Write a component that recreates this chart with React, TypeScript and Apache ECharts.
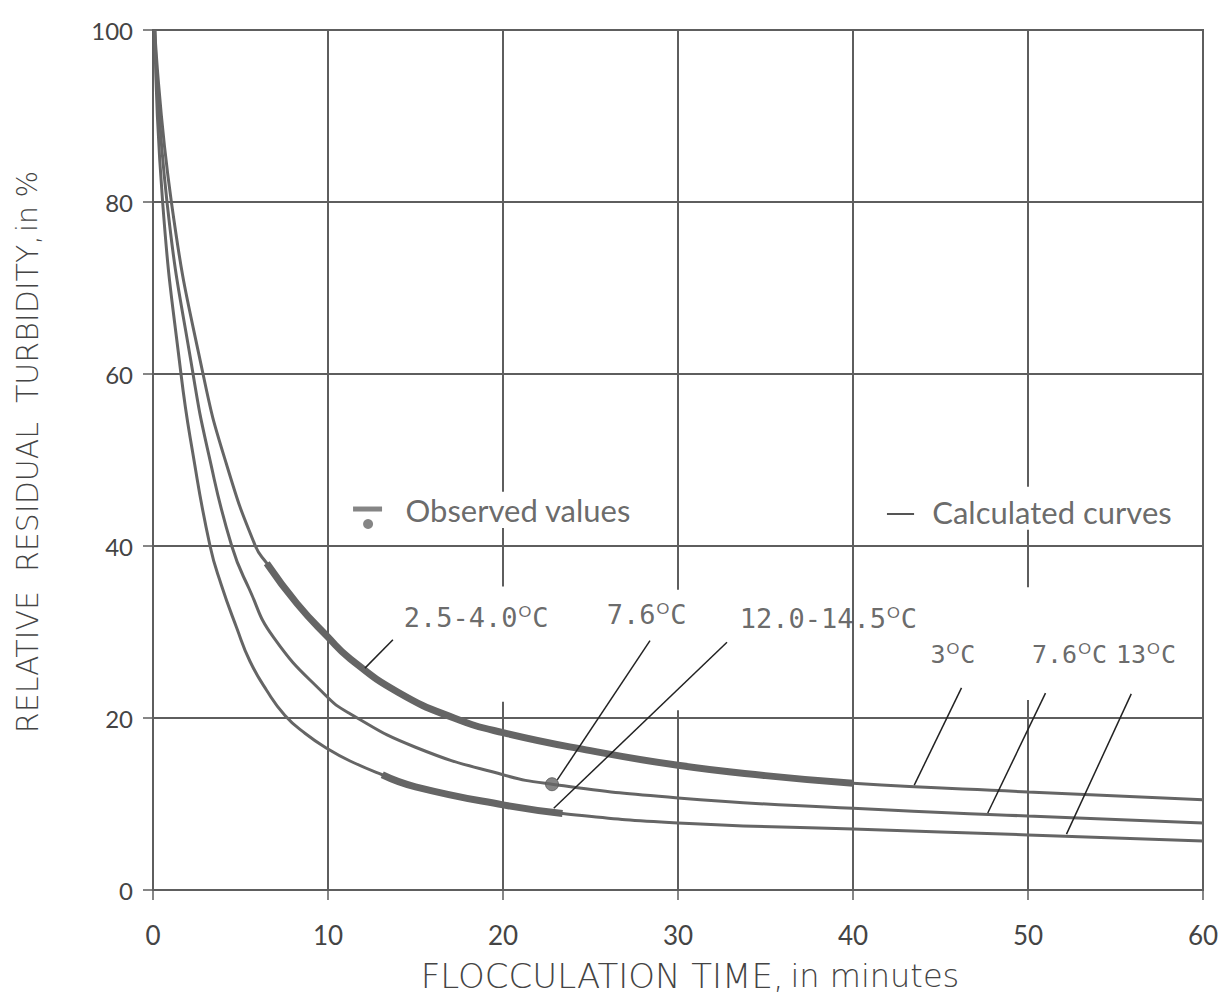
import React, { useEffect, useRef } from 'react';
import * as echarts from 'echarts';

// Axis ticks
const xTicks = [0, 10, 20, 30, 40, 50, 60];
const yTicks = [0, 20, 40, 60, 80, 100];

// Calculated curve, 3 °C (top)
const c3X = [0.1, 1.05, 2.86, 4.2, 5.85, 6.5, 8.23, 10, 11.26, 14, 17.2, 20, 25, 30, 35, 40, 50, 60];
const c3Y = [100, 80, 60, 49.5, 40, 38.0, 33.3, 29.4, 26.9, 23.0, 20.0, 18.3, 16.2, 14.5, 13.3, 12.4, 11.4, 10.5];

// Calculated curve, 7.6 °C (middle)
const c76X = [0.1, 0.8, 2.29, 3.2, 4.5, 5.5, 6.88, 9.83, 11.26, 15, 20, 22.8, 30, 40, 50, 60];
const c76Y = [100, 80, 60, 50.5, 40, 35.0, 29.4, 22.7, 20.5, 16.6, 13.4, 12.3, 10.7, 9.5, 8.6, 7.8];

// Calculated curve, 13 °C (bottom)
const c13X = [0.1, 0.55, 1.6, 2.3, 3.26, 3.9, 4.78, 5.54, 6.5, 7.54, 8.7, 10, 11.26, 13.1, 15, 20, 23.4, 30, 40, 50, 60];
const c13Y = [100, 80, 60, 50.5, 40, 35.5, 30.5, 26.6, 23.2, 20.3, 18.2, 16.4, 15.0, 13.4, 12.0, 9.9, 8.9, 7.8, 7.1, 6.4, 5.7];

// Observed ranges (minutes) drawn as thick segments
const observedTopRange = [6.5, 40];
const observedBottomRange = [13.1, 23.4];
const observedPoint = [22.8, 12.3];

// Curve labels
const labelNames = ['2.5-4.0', '7.6', '12.0-14.5', '3', '7.6', '13'];
const labelX = [14.3, 25.9, 33.5, 44.4, 50.2, 55.0];
const labelY = [31.7, 32.0, 31.6, 27.4, 27.4, 27.4];
const labelSize = [27, 27, 27, 25, 25, 25];

// Leader lines
const leaderFrom = [[13.71, 29.1], [28.4, 29.0], [32.8, 28.8], [46.2, 23.5], [51.0, 22.9], [55.9, 22.8]];
const leaderTo = [[12.11, 25.8], [23.1, 12.8], [22.9, 9.5], [43.5, 12.2], [47.7, 8.95], [52.2, 6.5]];

// Vertical grid lines and their gaps [x, yTop, yBottom]
const vGridX = [10, 20, 30, 40, 50];
const vGridGaps = [[20, 46.3, 42.1], [20, 35.3, 21.9], [30, 34.9, 20.9], [50, 46.9, 41.9], [50, 35.2, 22.1]];

const TEXT = '#444';
const LINE = '#5e5e5e';
const MONO = '"DejaVu Sans Mono", monospace';
const SANS = 'Lato, "Noto Sans", sans-serif';
const TITLE = '"DejaVu Sans", sans-serif';

const zip = (xs: number[], ys: number[]) => xs.map((x, i) => [x, ys[i]]);

export default function App() {
  const ref = useRef<HTMLDivElement>(null);
  useEffect(() => {
    if (!ref.current) return;
    const chart = echarts.init(ref.current, null, { renderer: 'svg' });

    const gridSegs: any[] = [];
    vGridX.forEach((x) => {
      const gaps = vGridGaps.filter((g) => g[0] === x).sort((a, b) => b[1] - a[1]);
      let top = 100;
      gaps.forEach((g) => {
        gridSegs.push({ coords: [[x, top], [x, g[1]]] });
        top = g[2];
      });
      gridSegs.push({ coords: [[x, top], [x, 0]] });
    });

    const c3 = zip(c3X, c3Y);
    const c76 = zip(c76X, c76Y);
    const c13 = zip(c13X, c13Y);
    const obsTop = c3.filter((p) => p[0] >= observedTopRange[0] && p[0] <= observedTopRange[1]);
    const obsBottom = c13.filter((p) => p[0] >= observedBottomRange[0] && p[0] <= observedBottomRange[1]);

    const curve = (name: string, data: number[][], width = 3) => ({
      name,
      type: 'line',
      data,
      smooth: 0.5,
      showSymbol: false,
      silent: true,
      lineStyle: { color: '#656565', width },
      z: 3,
    });

    const option: any = {
      animation: false,
      backgroundColor: '#fff',
      grid: { left: 153, right: 25, top: 30, bottom: 110, show: true, borderColor: LINE, borderWidth: 2 },
      xAxis: {
        type: 'value',
        min: 0,
        max: 60,
        interval: 10,
        axisLine: { show: true, lineStyle: { color: LINE, width: 2 } },
        axisTick: { show: true, length: 10, lineStyle: { color: LINE, width: 1.5 } },
        axisLabel: { margin: 32, fontFamily: SANS, fontSize: 26, color: TEXT, formatter: (v: number) => (xTicks.includes(v) ? String(v) : '') },
        splitLine: { show: false },
      },
      yAxis: {
        type: 'value',
        min: 0,
        max: 100,
        interval: 20,
        axisLine: { show: true, lineStyle: { color: LINE, width: 2 } },
        axisTick: { show: true, length: 10, lineStyle: { color: LINE, width: 1.5 } },
        axisLabel: { margin: 20, fontFamily: SANS, fontSize: 24, color: TEXT, formatter: (v: number) => (yTicks.includes(v) ? String(v) : '') },
        splitLine: { show: true, lineStyle: { color: LINE, width: 2 } },
      },
      graphic: [
        {
          type: 'text',
          x: 690,
          y: 976,
          style: {
            text: '{a|FLOCCULATION TIME,}  {b|in minutes}',
            align: 'center',
            verticalAlign: 'middle',
            rich: {
              a: { fontFamily: TITLE, fontSize: 34, fill: TEXT, fontWeight: 200 },
              b: { fontFamily: TITLE, fontSize: 32, fill: TEXT, fontWeight: 200 },
            },
          },
        },
        {
          type: 'text',
          x: 27,
          y: 452,
          rotation: Math.PI / 2,
          style: {
            text: '{a|RELATIVE  RESIDUAL  TURBIDITY,} {b|in %}',
            align: 'center',
            verticalAlign: 'middle',
            rich: {
              a: { fontFamily: TITLE, fontSize: 30, fill: TEXT, fontWeight: 200 },
              b: { fontFamily: TITLE, fontSize: 28, fill: TEXT, fontWeight: 200 },
            },
          },
        },
      ],
      series: [
        {
          type: 'lines',
          coordinateSystem: 'cartesian2d',
          silent: true,
          data: gridSegs,
          lineStyle: { color: LINE, width: 2, opacity: 1 },
          z: 1,
        },
        curve('3 °C', c3),
        curve('7.6 °C', c76),
        curve('13 °C', c13),
        curve('Observed 2.5-4.0 °C', obsTop, 7),
        curve('Observed 12.0-14.5 °C', obsBottom, 7),
        {
          name: 'Observed 7.6 °C',
          type: 'scatter',
          data: [observedPoint],
          symbol: 'circle',
          symbolSize: 13,
          itemStyle: { color: '#666', borderColor: '#555', borderWidth: 1 },
          silent: true,
          z: 5,
        },
        {
          type: 'lines',
          coordinateSystem: 'cartesian2d',
          silent: true,
          data: leaderFrom.map((f, i) => ({ coords: [f, leaderTo[i]] })),
          lineStyle: { color: '#222', width: 1.5, opacity: 1 },
          z: 4,
        },
        {
          type: 'scatter',
          silent: true,
          symbolSize: 1,
          itemStyle: { color: 'rgba(0,0,0,0)' },
          data: labelNames.map((n, i) => ({
            name: n,
            value: [labelX[i], labelY[i]],
            label: {
              rich: {
                n: { fontFamily: MONO, fontSize: labelSize[i], color: TEXT, lineHeight: 30 },
                s: { fontFamily: SANS, fontSize: 16, color: TEXT, verticalAlign: 'top', lineHeight: 16, padding: [0, 1, 0, 1] },
              },
            },
          })),
          label: {
            show: true,
            position: 'right',
            distance: 0,
            formatter: (p: any) => `{n|${p.name}}{s|O}{n|C}`,
          },
          z: 6,
        },
        // Legend annotations
        {
          type: 'scatter',
          silent: true,
          symbolSize: 1,
          itemStyle: { color: 'rgba(0,0,0,0)' },
          data: [
            { name: 'Observed values', value: [14.4, 44.2] },
            { name: 'Calculated curves', value: [44.5, 43.9] },
          ],
          label: {
            show: true,
            position: 'right',
            distance: 0,
            formatter: (p: any) => p.name,
            fontFamily: SANS,
            fontSize: 31,
            color: TEXT,
          },
          z: 6,
        },
        {
          type: 'scatter',
          silent: true,
          data: [[12.26, 44.3]],
          symbol: 'rect',
          symbolSize: [29, 5],
          itemStyle: { color: '#666' },
          z: 6,
        },
        {
          type: 'scatter',
          silent: true,
          data: [[12.29, 42.56]],
          symbol: 'circle',
          symbolSize: 10,
          itemStyle: { color: '#666' },
          z: 6,
        },
        {
          type: 'lines',
          coordinateSystem: 'cartesian2d',
          silent: true,
          data: [{ coords: [[41.94, 43.8], [43.49, 43.8]] }],
          lineStyle: { color: '#555', width: 2, opacity: 1 },
          z: 6,
        },
      ],
    };
    chart.setOption(option);
    return () => chart.dispose();
  }, []);
  return <div ref={ref} style={{ position: 'absolute', left: 0, top: 0, width: 1228, height: 1000 }} />;
}
